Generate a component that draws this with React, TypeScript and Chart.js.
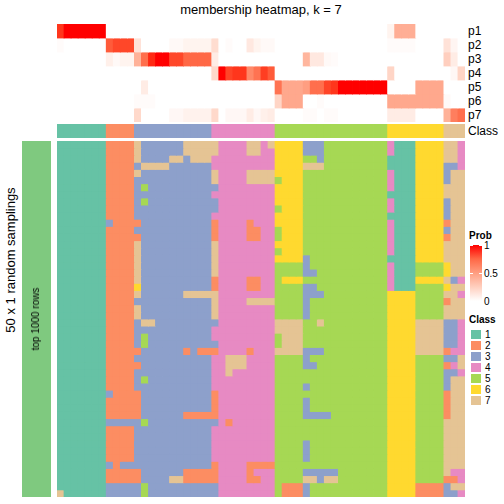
import React, { useEffect, useRef } from "react";
import { Chart, registerables } from "chart.js";

Chart.register(...registerables);

// ---------------- data ----------------
const classColors: Record<string, string> = {
  "1": "#66C2A5",
  "2": "#FC8D62",
  "3": "#8DA0CB",
  "4": "#E78AC3",
  "5": "#A6D854",
  "6": "#FFD92F",
  "7": "#E5C494",
};
const classNames = ["1", "2", "3", "4", "5", "6", "7"];
const probNames = ["p1", "p2", "p3", "p4", "p5", "p6", "p7"];
const probTicks = ["1", "0.5", "0"];
const sideColor = "#7FC97F";

// consensus class per column (58 columns)
const classRow =
  "1111111" + "2222" + "3" + "3333333333" + "444444444" + "5555" + "555555555555" + "6666" + "6666" + "777";

// membership probabilities p1..p7 per column
const p1 = [0.92,1,1,1,1,1,1, 0,0,0,0, 0, 0,0,0,0,0,0,0,0,0,0, 0,0,0,0,0,0,0,0,0, 0,0,0,0, 0,0,0,0,0,0,0,0,0,0,0,0, 0.06,0.42,0.42,0.42, 0,0,0,0, 0,0,0];
const p2 = [0.02,0,0,0,0,0,0, 0.8,0.87,0.87,0.87, 0.15, 0,0,0,0,0.03,0.03,0.06,0.06,0.06,0.06, 0.18,0,0.02,0,0,0.12,0.06,0.03,0.03, 0,0,0,0, 0,0,0,0,0,0,0,0,0,0,0,0, 0.02,0.02,0.02,0.02, 0,0,0,0, 0.15,0.05,0];
const p3 = [0,0,0,0,0,0,0, 0.08,0.03,0.06,0.06, 0.4, 0.72,0.95,1,1,0.87,0.87,0.75,0.75,0.75,0.75, 0.1,0,0,0,0,0,0,0,0, 0,0,0,0, 0.38,0.12,0.12,0.03,0.02,0,0,0,0,0,0,0, 0,0,0,0, 0,0,0,0, 0.25,0.1,0];
const p4 = [0,0,0,0,0,0,0, 0,0,0,0, 0, 0,0,0,0,0,0,0,0,0,0, 0.2,1,0.88,0.92,0.92,0.6,0.7,0.9,0.8, 0,0,0,0, 0,0,0,0,0,0,0,0,0,0,0,0, 0.22,0,0,0, 0,0,0,0, 0,0.04,0.22];
const p5 = [0,0,0,0,0,0,0, 0,0,0,0, 0, 0.1,0,0,0,0,0,0,0,0,0, 0,0,0,0,0,0,0,0,0, 0.7,0.45,0.45,0.45, 0.5,0.72,0.72,0.88,0.92,1,1,1,1,1,1,1, 0,0,0,0, 0.45,0.45,0.45,0.45, 0,0,0];
const p6 = [0,0,0,0,0,0,0, 0,0,0,0, 0.02, 0.02,0.02,0,0,0,0,0,0,0,0, 0,0,0,0,0,0,0,0,0, 0.22,0.45,0.45,0.45, 0,0,0.02,0,0,0,0,0,0,0,0,0, 0.45,0.45,0.45,0.45, 0.45,0.45,0.45,0.45, 0.03,0,0];
const p7 = [0,0,0,0,0,0,0, 0,0,0,0, 0.2, 0,0,0,0,0.04,0.04,0.07,0.07,0.07,0.07, 0.2,0,0.04,0.04,0.04,0.1,0.04,0.08,0.1, 0,0,0,0, 0.02,0.02,0,0.02,0.02,0,0,0,0,0,0,0, 0.1,0.1,0.1,0.1, 0,0,0,0, 0.4,0.65,0.72];
const probRows = [p1, p2, p3, p4, p5, p6, p7];

// class assignments of the 50 random samplings (rows) x 58 columns
const samplingRows: string[][] = [
  ["1111111","2222","7","3333337777","744447747","6666","333555555555","4111","6666","774"],
  ["1111111","2222","7","3333337777","744447744","6666","333555555555","4111","6666","774"],
  ["1111111","2222","7","3333773777","444444444","6666","553555555555","1111","6666","774"],
  ["1111111","2222","3","7777333333","444444444","6666","777555555555","1111","6666","334"],
  ["1111111","2222","7","3333333333","744447777","6666","555555555555","4111","6666","377"],
  ["1111111","2222","3","3333333333","744447777","5666","555555555555","4111","6666","377"],
  ["1111111","2222","3","5333333333","344444444","6666","555555555555","4111","6666","777"],
  ["1111111","2222","3","3333333333","444444444","6666","555555555555","1111","6666","777"],
  ["1111111","2222","3","5333333333","344444444","6666","555555555555","4111","6666","377"],
  ["1111111","2222","3","3333333333","344444444","5666","555555555555","4111","6666","377"],
  ["1111111","2222","3","3333333333","444444444","6666","555555555555","1111","6666","377"],
  ["1111111","3222","2","3333333333","244442444","6666","555555555555","4111","6666","277"],
  ["1111111","2222","3","3333333333","244442244","5666","555555555555","4111","6666","377"],
  ["1111111","2222","2","3333333333","244442244","5666","555555555555","4111","6666","277"],
  ["1111111","2222","7","3333333333","744444444","6666","555555555555","4111","6666","777"],
  ["1111111","2222","7","3333333333","744444444","5666","555555555555","4111","6666","777"],
  ["1111111","2222","7","3333333333","744444444","6666","355555555555","1111","6666","777"],
  ["1111111","2222","7","3333333333","744444444","5555","355555555555","4111","5555","677"],
  ["1111111","2222","7","3333333333","744444444","5555","335555555555","4111","5555","677"],
  ["1111111","2222","7","3333333333","244442244","5666","555555555555","4111","6666","734"],
  ["1111111","2222","6","3333333333","244442244","5555","335555555555","4111","5555","677"],
  ["1111111","2222","7","3333337777","744444444","5555","333555555555","6666","5555","774"],
  ["1111111","2222","3","3333333333","744447777","5555","355555555555","6666","5555","277"],
  ["1111111","2222","7","3333333333","744444444","5555","355555555555","6666","5555","777"],
  ["1111111","2222","7","3333333333","744444444","5555","355555555555","6666","5555","777"],
  ["1111111","2222","3","7733333333","344444444","7777","557555555555","6666","7777","334"],
  ["1111111","2222","3","3333333333","444444444","7777","555555555555","6666","7777","334"],
  ["1111111","2222","3","5333333333","444444444","5777","555555555555","6666","7777","334"],
  ["1111111","2222","3","5333333333","344444444","5777","555555555555","6666","7777","334"],
  ["1111111","2222","2","3333332322","244442444","7777","333555555555","6666","7777","244"],
  ["1111111","2222","3","3333333333","447774444","5555","355555555555","6666","5555","337"],
  ["1111111","2222","2","3333333333","447774444","5555","335555555555","6666","5555","247"],
  ["1111111","2222","3","3333333333","447444444","5555","555555555555","6666","5555","334"],
  ["1111111","2222","3","5333333333","444444444","5555","555555555555","6666","5555","377"],
  ["1111111","2222","3","3333333333","444444444","5555","355555555555","6666","5555","377"],
  ["1111111","3222","2","3333333333","244444444","5555","555555555555","6666","5555","277"],
  ["1111111","2222","2","3333333333","244444444","5555","355555555555","6666","5555","277"],
  ["1111111","2222","2","3333333333","244444444","5555","355555555555","6666","5555","277"],
  ["1111111","2222","2","3333332222","244444444","5555","333355555555","6666","5555","277"],
  ["1111111","3333","3","5333333333","342444444","5555","555555555555","6666","5555","777"],
  ["1111111","2222","3","3333333333","444444444","5555","555555555555","6666","5555","777"],
  ["1111111","2222","3","3333333333","444444444","5555","555555555555","6666","5555","777"],
  ["1111111","2222","3","3333333333","444444444","5555","355555555555","6666","5555","777"],
  ["1111111","2222","3","3333333333","444444444","5555","355555555555","6666","5555","777"],
  ["1111111","2222","3","3333333333","444444444","5555","355555555555","6666","5555","777"],
  ["1111111","3233","3","3333333333","244442222","5555","555555555555","6666","5555","777"],
  ["1111111","2222","2","3333332222","244442444","5555","333335555555","6666","5555","744"],
  ["1111111","2222","2","3333772222","244442244","5555","773775555555","6666","5555","224"],
  ["1111111","3333","3","5333333333","344444444","5222","355555555555","6666","2222","377"],
  ["7111111","3333","3","5333333333","344444444","5222","355555555555","6666","2222","334"],
];

// ---------------- colour helpers ----------------
function labToHex(L: number, a: number, b: number): string {
  const fy = (L + 16) / 116;
  const fx = fy + a / 500;
  const fz = fy - b / 200;
  const d = 6 / 29;
  const finv = (t: number) => (t > d ? t * t * t : 3 * d * d * (t - 4 / 29));
  const X = 0.95047 * finv(fx);
  const Y = finv(fy);
  const Z = 1.08883 * finv(fz);
  const lin = [
    3.2404542 * X - 1.5371385 * Y - 0.4985314 * Z,
    -0.969266 * X + 1.8760108 * Y + 0.041556 * Z,
    0.0556434 * X - 0.2040259 * Y + 1.0572252 * Z,
  ];
  return (
    "#" +
    lin
      .map((v) => {
        v = Math.max(0, Math.min(1, v));
        const s = v <= 0.0031308 ? 12.92 * v : 1.055 * Math.pow(v, 1 / 2.4) - 0.055;
        return Math.round(s * 255).toString(16).padStart(2, "0");
      })
      .join("")
  );
}
const WHITE_LAB = [100, 0, 0];
const RED_LAB = [53.2408, 80.0925, 67.2032];
function probColor(p: number): string {
  const t = Math.max(0, Math.min(1, p));
  return labToHex(
    WHITE_LAB[0] + (RED_LAB[0] - WHITE_LAB[0]) * t,
    WHITE_LAB[1] + (RED_LAB[1] - WHITE_LAB[1]) * t,
    WHITE_LAB[2] + (RED_LAB[2] - WHITE_LAB[2]) * t
  );
}

// ---------------- chart helper ----------------
function makeHeat(canvas: HTMLCanvasElement, colorRows: string[][]) {
  const n = colorRows[0].length;
  const labels = Array.from({ length: n }, (_, i) => "c" + (i + 1));
  return new Chart(canvas, {
    type: "bar",
    data: {
      labels,
      datasets: colorRows.map((cols) => ({
        data: cols.map(() => 1),
        backgroundColor: cols,
        borderWidth: 0,
        barPercentage: 1,
        categoryPercentage: 1,
        inflateAmount: 0.4,
      })),
    },
    options: {
      animation: false,
      responsive: false,
      maintainAspectRatio: false,
      devicePixelRatio: 1,
      events: [],
      layout: { padding: 0 },
      plugins: { legend: { display: false }, tooltip: { enabled: false }, title: { display: false } },
      scales: {
        x: { stacked: true, display: false },
        y: { stacked: true, display: false, reverse: true, min: 0, max: colorRows.length },
      },
    } as any,
  });
}

const FONT = '"Liberation Sans", Arial, Helvetica, sans-serif';

export default function App() {
  const probRef = useRef<HTMLCanvasElement>(null);
  const classRef = useRef<HTMLCanvasElement>(null);
  const mainRef = useRef<HTMLCanvasElement>(null);
  const sideRef = useRef<HTMLCanvasElement>(null);

  useEffect(() => {
    const probColors = probRows.map((row) => row.map(probColor));
    const classColorsRow = [classRow.split("").map((c) => classColors[c])];
    const mainColors = samplingRows.map((g) => g.join("").split("").map((c) => classColors[c]));
    const sideColors = [[sideColor]];
    const charts = [
      makeHeat(probRef.current!, probColors),
      makeHeat(classRef.current!, classColorsRow),
      makeHeat(mainRef.current!, mainColors),
      makeHeat(sideRef.current!, sideColors),
    ];
    return () => charts.forEach((c) => c.destroy());
  }, []);

  const abs = (l: number, t: number, w: number, h: number): React.CSSProperties => ({
    position: "absolute",
    left: l,
    top: t,
    width: w,
    height: h,
  });

  const gradStops = [0, 0.25, 0.5, 0.75, 1].map((v) => probColor(v)).join(", ");

  return (
    <div
      style={{
        position: "absolute",
        left: 0,
        top: 0,
        width: 504,
        height: 504,
        background: "#fff",
        fontFamily: FONT,
        color: "#000",
        overflow: "hidden",
      }}
    >
      {/* title */}
      <div style={{ ...abs(131, 2, 260, 16), textAlign: "center", fontSize: 13, lineHeight: "16px", whiteSpace: "nowrap" }}>
        membership heatmap, k = 7
      </div>

      <canvas ref={probRef} width={408} height={98} style={abs(57, 24, 408, 98)} />
      <canvas ref={classRef} width={408} height={14} style={abs(57, 124, 408, 14)} />
      <canvas ref={mainRef} width={408} height={356} style={abs(57, 141, 408, 356)} />
      <canvas ref={sideRef} width={29} height={356} style={abs(22, 141, 29, 356)} />

      {probNames.map((p, i) => (
        <div key={p} style={{ ...abs(468, 24 + 14 * i, 36, 14), fontSize: 12, lineHeight: "14px" }}>
          {p}
        </div>
      ))}
      <div style={{ ...abs(468, 124, 36, 14), fontSize: 12, lineHeight: "14px" }}>Class</div>

      {/* row titles */}
      <div
        style={{
          position: "absolute",
          left: 10,
          top: 260,
          transform: "translate(-50%, -50%) rotate(-90deg)",
          fontSize: 13,
          whiteSpace: "nowrap",
          lineHeight: "15px",
        }}
      >
        50 x 1 random samplings
      </div>
      <div
        style={{
          position: "absolute",
          left: 36,
          top: 319,
          transform: "translate(-50%, -50%) rotate(-90deg)",
          fontSize: 10,
          whiteSpace: "nowrap",
          lineHeight: "12px",
        }}
      >
        top 1000 rows
      </div>

      {/* Prob legend */}
      <div style={{ ...abs(469, 230, 35, 12), fontSize: 10, fontWeight: "bold", lineHeight: "12px" }}>Prob</div>
      <div style={{ ...abs(470, 245, 12, 56), background: `linear-gradient(to top, ${gradStops})` }} />
      {[245, 273].map((y) => (
        <React.Fragment key={y}>
          <div style={{ ...abs(470, y - 0.5, 3, 1), background: "#fff" }} />
          <div style={{ ...abs(479, y - 0.5, 3, 1), background: "#fff" }} />
        </React.Fragment>
      ))}
      {probTicks.map((t, i) => (
        <div key={t} style={{ ...abs(484, 240 + 28 * i, 20, 12), fontSize: 10, lineHeight: "12px" }}>
          {t}
        </div>
      ))}

      {/* Class legend */}
      <div style={{ ...abs(469, 314, 35, 12), fontSize: 10, fontWeight: "bold", lineHeight: "12px" }}>Class</div>
      {classNames.map((c, i) => (
        <React.Fragment key={c}>
          <div style={{ ...abs(470, 329 + 11 * i, 12, 11), background: classColors[c], boxSizing: "border-box", border: "0.5px solid #fff" }} />
          <div style={{ ...abs(485, 329 + 11 * i, 19, 11), fontSize: 10, lineHeight: "11px" }}>{c}</div>
        </React.Fragment>
      ))}
    </div>
  );
}
